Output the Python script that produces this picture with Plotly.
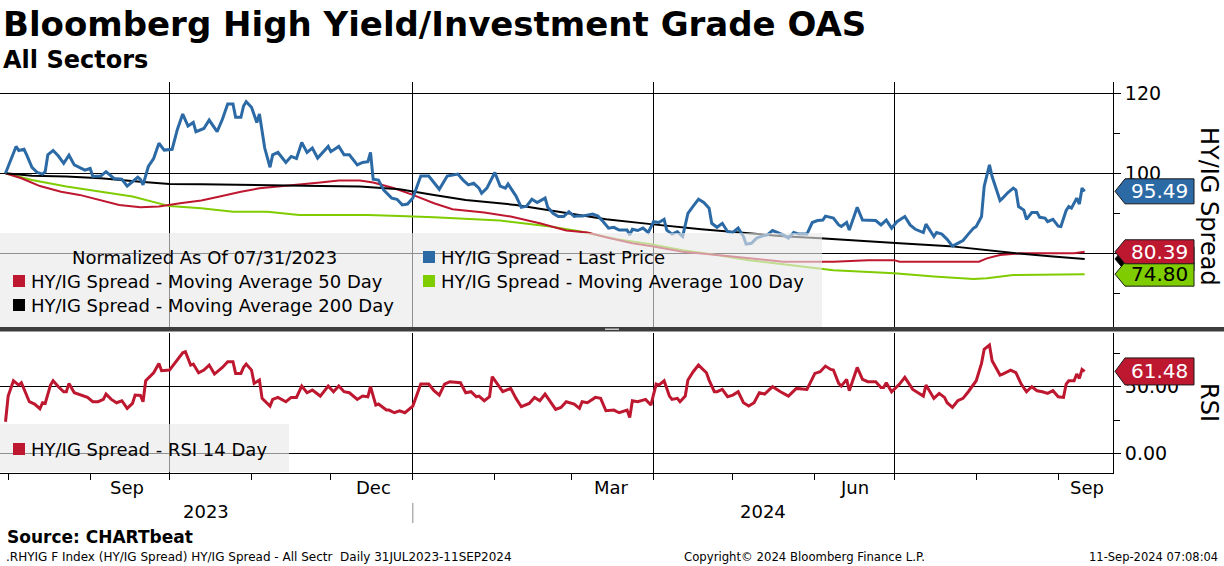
import pandas as pd
import plotly.graph_objects as go

# ---------------- data ----------------
START = "2023-07-31"  # day 0 of every series (normalisation date)

# (days since 2023-07-31, normalised value)
last_price_pts = [
    (0, 100.0), (2, 103.3), (3, 104.6), (4, 106.7), (5, 105.7), (7, 106.0), (8, 104.6), (10, 101.5),
    (12, 100.2), (14, 99.8), (15, 100.4), (16, 104.6), (18, 105.7), (20, 104.3), (22, 102.5), (24, 104.5),
    (26, 102.1), (28, 101.5), (30, 100.8), (32, 101.2), (33, 99.2), (36, 99.3), (38, 100.4), (41, 98.7),
    (44, 98.5), (46, 96.8), (48, 97.9), (50, 99.0), (51, 98.5), (52, 97.1), (54, 101.7), (56, 103.7),
    (58, 107.5), (60, 105.8), (63, 106.0), (65, 111.0), (67, 114.8), (69, 111.8), (71, 112.7), (72, 110.4),
    (75, 111.2), (77, 113.3), (80, 110.4), (82, 113.5), (84, 117.3), (86, 117.3), (87, 114.0), (89, 114.0),
    (90, 116.8), (91, 117.9), (93, 116.5), (95, 112.7), (96, 114.8), (98, 106.3), (100, 101.5), (101, 104.6),
    (103, 105.2), (106, 102.7), (108, 104.2), (110, 103.7), (112, 107.7), (114, 105.2), (116, 106.3),
    (118, 103.8), (122, 106.7), (123, 105.4), (126, 106.7), (128, 104.6), (130, 104.6), (133, 102.1),
    (135, 102.7), (137, 102.9), (138, 105.2), (139, 98.5), (141, 98.3), (143, 95.8), (146, 93.8),
    (148, 93.5), (150, 92.1), (152, 92.3), (154, 93.8), (156, 97.5), (157, 99.3), (160, 99.3), (162, 97.5),
    (164, 96.0), (167, 99.3), (169, 99.6), (171, 99.8), (173, 98.3), (175, 97.1), (177, 97.5), (179, 96.3),
    (180, 95.0), (182, 96.3), (185, 100.2), (187, 96.8), (189, 96.3), (190, 97.3), (193, 94.3), (195, 91.5),
    (197, 91.8), (199, 93.5), (201, 92.7), (204, 93.8), (205, 91.5), (207, 90.0), (209, 89.2), (211, 89.2),
    (213, 90.4), (215, 89.2), (216, 89.3), (218, 89.3), (222, 89.8), (224, 89.3), (226, 87.9), (228, 86.3),
    (230, 86.5), (232, 85.8), (235, 85.8), (236, 84.6), (237, 86.0), (239, 85.7), (241, 86.3), (243, 85.2),
    (245, 87.9), (247, 87.7), (249, 88.5), (250, 85.8), (252, 84.8), (254, 85.4), (256, 84.2), (258, 90.0),
    (260, 91.8), (262, 93.5), (264, 92.7), (266, 91.3), (267, 87.5), (269, 86.5), (271, 87.5), (273, 85.4),
    (275, 85.2), (277, 86.3), (279, 84.2), (280, 82.3), (282, 82.5), (284, 83.8), (286, 84.3), (288, 84.6),
    (290, 85.7), (292, 85.2), (294, 84.6), (296, 83.8), (298, 85.2), (300, 84.8), (303, 84.8), (305, 87.7),
    (307, 88.2), (309, 88.3), (310, 89.3), (313, 88.8), (315, 87.1), (316, 86.7), (318, 87.7), (319, 85.8),
    (322, 91.5), (324, 88.3), (326, 88.2), (329, 88.2), (331, 87.1), (333, 88.3), (335, 86.3), (337, 87.9),
    (340, 89.2), (342, 87.1), (344, 86.0), (347, 85.2), (348, 87.3), (350, 85.4), (351, 84.2), (352, 85.2),
    (354, 84.8), (356, 83.5), (358, 81.8), (360, 82.5), (362, 83.2), (364, 84.8), (366, 86.3), (367, 86.7),
    (369, 89.2), (370, 96.7), (372, 102.1), (373, 99.2), (375, 95.0), (376, 93.2), (377, 93.8), (379, 95.2),
    (381, 96.3), (382, 95.8), (383, 91.7), (385, 90.8), (386, 88.5), (388, 90.2), (390, 90.2), (391, 89.0),
    (393, 88.8), (394, 87.9), (396, 88.5), (398, 86.8), (399, 86.7), (401, 90.7), (402, 91.7), (403, 91.3),
    (405, 93.8), (406, 92.3), (407, 96.3), (408, 95.49),
]

ma50_pts = [
    (0, 100.0), (6, 98.75), (13, 96.8), (21, 95.4), (28, 94.6), (36, 93.2), (43, 92.1), (51, 91.5),
    (58, 91.7), (66, 92.5), (74, 93.2), (81, 94.2), (89, 95.4), (96, 96.25), (104, 96.7), (111, 97.1),
    (119, 97.7), (126, 98.2), (134, 98.2), (139, 97.7), (147, 96.25), (154, 94.6), (162, 92.5), (169, 91.0),
    (181, 90.2), (191, 89.2), (202, 87.5), (212, 85.7), (220, 85.2), (227, 84.0), (237, 82.5), (245, 81.7),
    (256, 80.4), (269, 79.6), (281, 78.75), (294, 77.9), (313, 77.9), (326, 78.3), (336, 78.3), (338, 77.9),
    (353, 77.9), (368, 77.9), (371, 78.75), (376, 79.6), (384, 80.0), (396, 80.0), (404, 80.0), (408, 80.39),
]

ma100_pts = [
    (0, 100.0), (10, 98.3), (23, 96.7), (36, 95.4), (48, 94.2), (62, 91.8), (74, 91.25), (86, 90.4),
    (99, 90.4), (111, 89.6), (124, 89.6), (137, 89.6), (149, 89.3), (162, 89.0), (187, 88.2), (206, 86.7),
    (218, 85.4), (231, 83.5), (244, 82.3), (256, 80.8), (269, 79.6), (281, 78.3), (294, 77.3), (308, 76.25),
    (313, 75.8), (336, 75.0), (351, 74.2), (366, 73.6), (371, 73.75), (381, 74.6), (396, 74.8), (408, 74.80),
]

ma200_pts = [
    (0, 100.0), (10, 99.4), (23, 99.2), (36, 98.75), (51, 97.9), (62, 97.3), (74, 97.25), (89, 97.1),
    (104, 96.8), (119, 96.8), (134, 96.7), (143, 96.25), (149, 96.0), (162, 94.6), (174, 93.3), (193, 92.1),
    (212, 90.0), (227, 88.5), (244, 87.3), (263, 86.0), (281, 85.0), (294, 84.3), (308, 83.75), (326, 82.9),
    (338, 82.5), (357, 81.8), (371, 80.8), (382, 80.0), (396, 79.2), (408, 78.6),
]

rsi_pts = [
    (0, 23.75), (1, 43.0), (3, 54.5), (5, 51.25), (6, 53.0), (9, 38.75), (11, 37.0), (13, 33.5), (14, 38.0),
    (15, 37.5), (17, 51.25), (18, 54.5), (20, 50.0), (22, 46.25), (23, 46.25), (24, 52.5), (26, 45.5),
    (29, 43.75), (31, 42.0), (33, 38.75), (35, 38.75), (37, 40.5), (38, 44.5), (40, 40.5), (42, 38.0),
    (44, 39.5), (46, 33.75), (48, 37.5), (49, 43.75), (51, 43.5), (52, 38.75), (53, 54.5), (56, 60.5),
    (58, 67.5), (59, 62.0), (62, 62.5), (64, 67.5), (67, 75.5), (68, 76.25), (70, 66.25), (71, 67.0),
    (73, 60.5), (75, 62.5), (77, 66.25), (79, 59.5), (82, 64.5), (84, 68.75), (86, 68.75), (87, 60.0),
    (89, 60.0), (90, 64.5), (91, 67.0), (93, 62.5), (94, 52.5), (96, 55.0), (97, 41.25), (100, 35.5),
    (101, 40.5), (103, 42.0), (106, 38.75), (108, 42.0), (110, 42.0), (112, 50.5), (114, 45.5), (116, 47.5),
    (119, 43.0), (122, 50.5), (124, 46.25), (126, 50.5), (128, 46.25), (130, 45.5), (133, 40.5), (135, 43.0),
    (137, 42.5), (138, 50.0), (140, 36.25), (141, 37.0), (144, 32.5), (145, 32.5), (147, 30.5), (149, 32.0),
    (151, 30.5), (154, 35.5), (157, 52.0), (160, 52.0), (162, 47.0), (164, 43.75), (166, 52.0), (168, 53.75),
    (172, 53.0), (174, 45.5), (176, 46.25), (178, 42.5), (179, 43.0), (181, 39.5), (183, 42.5), (184, 57.5),
    (188, 46.25), (191, 48.75), (193, 41.25), (195, 35.0), (198, 37.5), (200, 42.0), (202, 39.5), (204, 44.5),
    (207, 35.5), (208, 33.0), (210, 34.5), (212, 38.75), (215, 37.0), (217, 33.75), (218, 38.75), (220, 38.0),
    (223, 42.0), (225, 41.25), (227, 32.0), (230, 32.5), (232, 30.5), (235, 32.5), (236, 27.0), (237, 39.5),
    (239, 38.75), (242, 40.5), (244, 36.25), (246, 52.0), (247, 51.25), (249, 54.5), (251, 43.0), (252, 40.5),
    (254, 41.25), (255, 38.75), (257, 43.0), (258, 55.0), (260, 61.25), (262, 66.25), (265, 60.5), (266, 55.0),
    (268, 46.25), (269, 46.25), (271, 48.0), (273, 42.5), (275, 43.75), (277, 46.25), (279, 38.0), (281, 35.5),
    (283, 38.0), (285, 45.5), (287, 44.5), (290, 50.0), (293, 46.25), (296, 43.0), (299, 48.75), (303, 48.0),
    (306, 60.0), (308, 61.25), (310, 65.5), (312, 63.0), (313, 62.5), (315, 52.5), (316, 50.5), (318, 55.5),
    (319, 47.0), (322, 64.5), (324, 55.5), (326, 53.75), (329, 53.75), (331, 49.5), (332, 49.5), (333, 53.0),
    (335, 46.25), (338, 52.0), (340, 57.0), (343, 48.0), (345, 45.5), (347, 43.0), (348, 51.25), (350, 44.5),
    (351, 41.25), (353, 45.0), (355, 42.0), (356, 38.0), (358, 34.5), (360, 39.5), (362, 41.25), (364, 46.25),
    (366, 52.0), (367, 54.5), (369, 67.5), (370, 78.0), (372, 81.25), (373, 69.5), (376, 58.75), (377, 59.5),
    (380, 62.5), (382, 60.5), (384, 52.0), (386, 46.25), (388, 50.0), (390, 47.0), (392, 46.25), (394, 45.0),
    (396, 47.0), (398, 42.5), (400, 42.0), (401, 52.0), (402, 54.5), (404, 54.5), (405, 59.5), (406, 56.25),
    (407, 63.0), (408, 61.48),
]

quarter_starts = ["2023-10-01", "2024-01-01", "2024-04-01", "2024-07-01"]
month_tick_start = "2023-08-01"
month_labels = ["Sep", "Dec", "Mar", "Jun", "Sep"]
month_label_dates = ["2023-09-15", "2023-12-17", "2024-03-16", "2024-06-16", "2024-09-12"]
year_labels = ["2023", "2024"]
year_boundary = "2024-01-01"
x_range = ["2023-07-28 22:00", "2024-09-21 17:00"]
spread_ticks = [80, 100, 120]
spread_ticktext = ["", "100", "120"]   # the 80 label sits under the 50-day tag in the original
rsi_ticks = [0, 50]

# ---------------- styling / layout helpers ----------------
W, H = 1224, 566
FONT = "DejaVu Sans"
BLUE, RED, GREEN, BLACK = "#2c6aa6", "#be1730", "#7fcc00", "#000000"


def fx(px):
    return px / W


def fy(py):
    return 1 - py / H


TOP_PX = (82, 327)
RSI_PX = (333, 473)
X_RIGHT = 1113
top_range = [61.6, 122.8]
rsi_range = [-14.7, 90.3]
top_upp = (top_range[1] - top_range[0]) / (TOP_PX[1] - TOP_PX[0])   # units per pixel
rsi_upp = (rsi_range[1] - rsi_range[0]) / (RSI_PX[1] - RSI_PX[0])


def to_xy(points):
    days = [p[0] for p in points]
    vals = [p[1] for p in points]
    return pd.Timestamp(START) + pd.to_timedelta(days, unit="D"), vals


fig = go.Figure()
for pts, color, width in [(ma100_pts, GREEN, 2), (ma50_pts, RED, 2), (ma200_pts, BLACK, 2),
                          (last_price_pts, BLUE, 3)]:
    x, y = to_xy(pts)
    fig.add_trace(go.Scatter(x=x, y=y, mode="lines", line=dict(color=color, width=width),
                             showlegend=False, hoverinfo="skip", xaxis="x", yaxis="y"))
x, y = to_xy(rsi_pts)
fig.add_trace(go.Scatter(x=x, y=y, mode="lines", line=dict(color=RED, width=3),
                         showlegend=False, hoverinfo="skip", xaxis="x2", yaxis="y2"))

shapes = []
annotations = []

# separator between panels
shapes.append(dict(type="rect", xref="paper", yref="paper", x0=0, x1=1, y0=fy(331.5), y1=fy(327),
                   fillcolor="#3d3d3d", line=dict(width=0), layer="above"))
shapes.append(dict(type="rect", xref="paper", yref="paper", x0=fx(605), x1=fx(619), y0=fy(330), y1=fy(328.5),
                   fillcolor="#c8c8c8", line=dict(width=0), layer="above"))

# legend boxes (semi transparent)
shapes.append(dict(type="rect", xref="paper", yref="paper", x0=0, x1=fx(822), y0=fy(327), y1=fy(233),
                   fillcolor="rgba(232,232,232,0.62)", line=dict(width=0), layer="above"))
shapes.append(dict(type="rect", xref="paper", yref="paper", x0=0, x1=fx(289), y0=fy(472), y1=fy(424),
                   fillcolor="rgba(232,232,232,0.62)", line=dict(width=0), layer="above"))


def legend_item(x_px, y_px, color, text):
    shapes.append(dict(type="rect", xref="paper", yref="paper", x0=fx(x_px), x1=fx(x_px + 12),
                       y0=fy(y_px + 6), y1=fy(y_px - 6), fillcolor=color, line=dict(width=0), layer="above"))
    annotations.append(dict(x=fx(x_px + 16), y=fy(y_px), xref="paper", yref="paper", text=text,
                            showarrow=False, xanchor="left", yanchor="middle",
                            font=dict(family=FONT, size=18, color="black")))


annotations.append(dict(x=fx(70), y=fy(257), xref="paper", yref="paper", text="Normalized As Of 07/31/2023",
                        showarrow=False, xanchor="left", yanchor="middle",
                        font=dict(family=FONT, size=18, color="black")))
legend_item(423, 257, BLUE, "HY/IG Spread - Last Price")
legend_item(13, 281, RED, "HY/IG Spread - Moving Average 50 Day")
legend_item(423, 281, GREEN, "HY/IG Spread - Moving Average 100 Day")
legend_item(13, 305, BLACK, "HY/IG Spread - Moving Average 200 Day")
legend_item(13, 449, RED, "HY/IG Spread - RSI 14 Day")


def value_tag(yref, value, fill, text_color, upp, half_px=12, label=True):
    hh = half_px * upp
    xt, xl, xr = fx(1115), fx(1125), fx(1194)
    path = (f"M {xt},{value} L {xl},{value + hh} L {xr},{value + hh} "
            f"L {xr},{value - hh} L {xl},{value - hh} Z")
    shapes.append(dict(type="path", xref="paper", yref=yref, path=path, fillcolor=fill,
                       line=dict(color="#1a1a1a", width=1), layer="above"))
    if label:
        annotations.append(dict(x=fx(1159), y=value, xref="paper", yref=yref, text=f"{value:.2f}",
                                showarrow=False, xanchor="center", yanchor="middle",
                                font=dict(family=FONT, size=20, color=text_color)))


value_tag("y", ma200_pts[-1][1], BLACK, BLACK, top_upp, label=False)   # hidden behind the other tags
value_tag("y", ma100_pts[-1][1], GREEN, "black", top_upp)
value_tag("y", ma50_pts[-1][1], RED, "white", top_upp)
value_tag("y", last_price_pts[-1][1], BLUE, "white", top_upp, half_px=12.5)
value_tag("y2", rsi_pts[-1][1], RED, "white", rsi_upp, half_px=13.5)

# axis titles (rotated, reading top to bottom)
annotations.append(dict(x=fx(1209), y=fy(206), xref="paper", yref="paper", text="HY/IG Spread", textangle=90,
                        showarrow=False, xanchor="center", yanchor="middle",
                        font=dict(family=FONT, size=24, color="black")))
annotations.append(dict(x=fx(1209), y=fy(402), xref="paper", yref="paper", text="RSI", textangle=90,
                        showarrow=False, xanchor="center", yanchor="middle",
                        font=dict(family=FONT, size=24, color="black")))

# month / year labels
for lab, d in zip(month_labels, month_label_dates):
    annotations.append(dict(x=d, y=fy(487), xref="x2", yref="paper", text=lab, showarrow=False,
                            xanchor="center", yanchor="middle", font=dict(family=FONT, size=18, color="black")))
x0 = pd.Timestamp(x_range[0])
x1 = pd.Timestamp(x_range[1])
yb = pd.Timestamp(year_boundary)
for lab, (a, b) in zip(year_labels, [(x0, yb), (yb, x1)]):
    annotations.append(dict(x=a + (b - a) / 2, y=fy(511), xref="x2", yref="paper", text=lab, showarrow=False,
                            xanchor="center", yanchor="middle", font=dict(family=FONT, size=18, color="black")))
shapes.append(dict(type="line", xref="x2", yref="paper", x0=year_boundary, x1=year_boundary,
                   y0=fy(523), y1=fy(503), line=dict(color="#8a8a8a", width=1)))

# titles and footer
annotations += [
    dict(x=fx(1), y=fy(24), xref="paper", yref="paper", text="<b>Bloomberg High Yield/Investment Grade OAS</b>",
         showarrow=False, xanchor="left", yanchor="middle", font=dict(family=FONT, size=34, color="black")),
    dict(x=fx(1), y=fy(60), xref="paper", yref="paper", text="<b>All Sectors</b>",
         showarrow=False, xanchor="left", yanchor="middle", font=dict(family=FONT, size=24, color="black")),
    dict(x=fx(5), y=fy(537), xref="paper", yref="paper", text="<b>Source: CHARTbeat</b>",
         showarrow=False, xanchor="left", yanchor="middle", font=dict(family=FONT, size=17, color="black")),
    dict(x=fx(4), y=fy(557), xref="paper", yref="paper",
         text=".RHYIG F Index (HY/IG Spread) HY/IG Spread - All Sectr  Daily 31JUL2023-11SEP2024",
         showarrow=False, xanchor="left", yanchor="middle", font=dict(family=FONT, size=12, color="black")),
    dict(x=fx(682), y=fy(557), xref="paper", yref="paper", text="Copyright\u00a9 2024 Bloomberg Finance L.P.",
         showarrow=False, xanchor="left", yanchor="middle", font=dict(family=FONT, size=11.7, color="black")),
    dict(x=fx(1220), y=fy(557), xref="paper", yref="paper", text="11-Sep-2024 07:08:04",
         showarrow=False, xanchor="right", yanchor="middle", font=dict(family=FONT, size=11.5, color="black")),
]

tickfont = dict(family=FONT, size=19, color="black")
fig.update_layout(
    width=W, height=H, margin=dict(l=0, r=0, t=0, b=0),
    paper_bgcolor="white", plot_bgcolor="white", showlegend=False,
    xaxis=dict(domain=[0, fx(X_RIGHT)], anchor="y", type="date", range=x_range, tickvals=quarter_starts,
               showticklabels=False, ticks="", showgrid=True, gridcolor="black", gridwidth=1,
               showline=False, zeroline=False, matches="x2"),
    yaxis=dict(domain=[fy(TOP_PX[1]), fy(TOP_PX[0])], anchor="x", side="right", range=top_range,
               tickmode="array", tickvals=spread_ticks, ticktext=spread_ticktext,
               showgrid=True, gridcolor="black", gridwidth=1, zeroline=False,
               ticks="outside", ticklen=7, tickcolor="black", showline=True, linecolor="black", linewidth=1,
               tickfont=tickfont,
               minor=dict(tick0=0, dtick=10, ticks="outside", ticklen=6, tickcolor="black", showgrid=False)),
    xaxis2=dict(domain=[0, fx(X_RIGHT)], anchor="y2", type="date", range=x_range, tickvals=quarter_starts,
                showticklabels=False, ticks="outside", ticklen=6, tickcolor="black", showgrid=True,
                gridcolor="black", gridwidth=1, showline=True, linecolor="black", linewidth=1, zeroline=False,
                minor=dict(tick0=month_tick_start, dtick="M1", ticks="outside", ticklen=6, tickcolor="black",
                           showgrid=False)),
    yaxis2=dict(domain=[fy(RSI_PX[1]), fy(RSI_PX[0])], anchor="x2", side="right", range=rsi_range,
                tickmode="array", tickvals=rsi_ticks, tickformat=".2f", showgrid=True, gridcolor="black",
                gridwidth=1, zeroline=False, ticks="outside", ticklen=7, tickcolor="black", showline=True,
                linecolor="black", linewidth=1, tickfont=tickfont,
                minor=dict(tick0=0, dtick=25, ticks="outside", ticklen=6, tickcolor="black", showgrid=False)),
    shapes=shapes, annotations=annotations,
)

fig.write_html("out.html", config={"displayModeBar": False},
               post_script="document.body.style.margin='0';document.body.style.overflow='hidden';")
